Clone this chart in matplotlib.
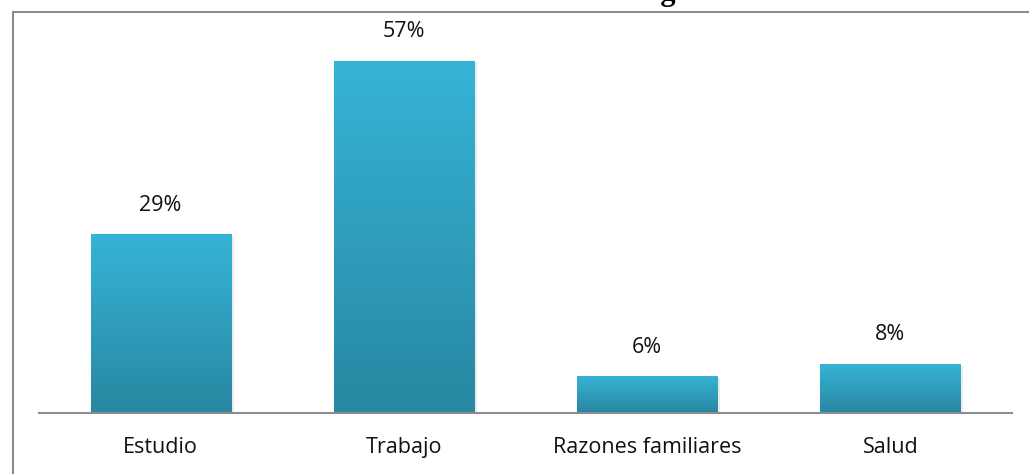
import matplotlib.pyplot as plt
import matplotlib.patches as mpatches
import numpy as np
from matplotlib.colors import LinearSegmentedColormap

categories = ["Estudio", "Trabajo", "Razones familiares", "Salud"]
values = [29, 57, 6, 8]
labels = ["29%", "57%", "6%", "8%"]
title = "GRÁFICO 5: Motivos de migración"

W, H = 1029, 474
fig = plt.figure(figsize=(W / 100, H / 100), dpi=100)

# outer chart frame (clipped on the right/bottom like the reference)
frame = mpatches.Rectangle((13 / W, -0.1), 1.2, 1.1 - 12 / H, transform=fig.transFigure,
                           fill=False, edgecolor="#8c8c8c", linewidth=1.5)
fig.patches.append(frame)

# title, mostly cut off at the top edge (as in the reference)
fig.text(525 / W, 1.0, title, ha="center", va="baseline",
         fontsize=22, fontweight="bold", family="Liberation Serif")

ax = fig.add_axes([39 / W, (H - 413) / H, (1012 - 39) / W, (413 - 42) / H])
x = np.arange(len(categories))
bars = ax.bar(x, values, width=0.576, color="none", zorder=2)

cmap = LinearSegmentedColormap.from_list("g", ["#2887a1", "#36b4d7"])
grad = np.linspace(0, 1, 256).reshape(-1, 1)
for b in bars:
    x0, w, h = b.get_x(), b.get_width(), b.get_height()
    # soft shadow
    sh = mpatches.Rectangle((x0 + 0.012, -0.4), w, h, facecolor="#000000", alpha=0.08,
                            edgecolor="none", zorder=1)
    ax.add_patch(sh)
    im = ax.imshow(grad, extent=[x0, x0 + w, 0, h], origin="lower", cmap=cmap,
                   aspect="auto", zorder=2)
    im.set_clip_path(b)

for xi, v, lab in zip(x, values, labels):
    ax.annotate(lab, (xi, v), xytext=(0, 13), textcoords="offset points",
                ha="center", va="bottom", fontsize=15.5, family="Open Sans", color="#111111")

ax.set_xlim(-0.5, len(categories) - 0.5)
ax.set_ylim(0, 60)
ax.set_xticks(x)
ax.set_xticklabels(categories, fontsize=15.5, family="Open Sans", color="#111111")
ax.tick_params(axis="x", length=0, pad=17)
ax.set_yticks([])
for s in ["top", "right", "left"]:
    ax.spines[s].set_visible(False)
ax.spines["bottom"].set_color("#8c8c8c")
ax.spines["bottom"].set_linewidth(1.5)
ax.spines["bottom"].set_zorder(3)

fig.savefig("out.png", dpi=100)
